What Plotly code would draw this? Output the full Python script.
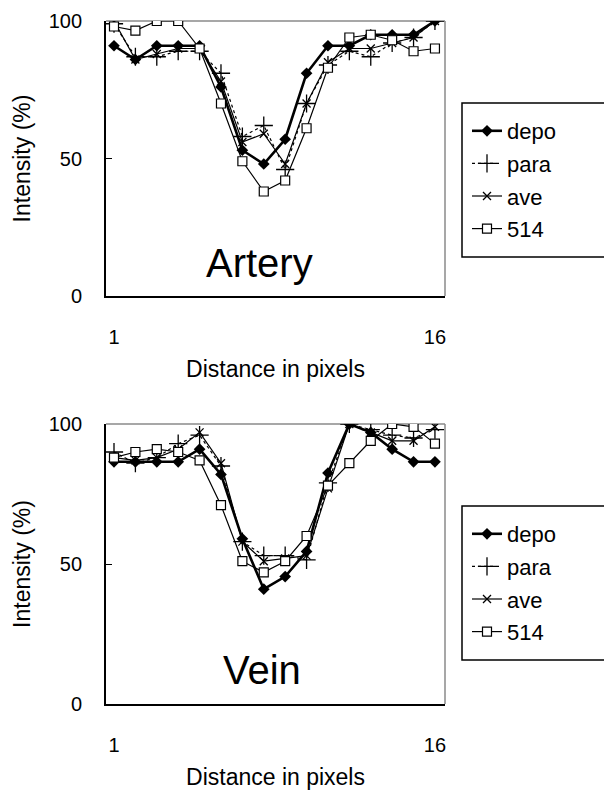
import plotly.graph_objects as go

# ---------------- data ----------------
distance = list(range(1, 17))
x_tick_vals = [1, 16]
x_tick_text = ["1", "16"]
y_tick_vals = [0, 50, 100]
series_names = ["depo", "para", "ave", "514"]

artery_depo = [91, 86, 91, 91, 91, 76, 53, 48, 57, 81, 91, 91, 95, 95, 95, 100]
artery_para = [99, 87, 87, 89, 89, 81, 58, 62, 46, 70, 84, 89, 87, 92, 94, 100]
artery_ave = [100, 86, 88, 90, 90, 78, 56, 59, 48, 70, 85, 90, 90, 92, 94, 100]
artery_514 = [98, 96.5, 100, 100, 90, 70, 49, 38, 42, 61, 83, 94, 95, 93, 89, 90]

vein_depo = [86.5, 86.5, 86.5, 86.5, 91, 82, 59, 41, 45.5, 54.5, 82.5, 100, 97, 91, 86.5, 86.5]
vein_para = [90, 86, 88, 93, 96, 85, 58, 53, 53, 51.5, 79, 100, 98, 96, 95, 98]
vein_ave = [88, 87, 88, 91, 97, 86, 58, 51, 52, 53, 77, 100, 97, 94, 94, 99]
vein_514 = [88, 90, 91, 90, 87, 71, 51, 47, 51, 60, 78, 86, 94, 100, 99, 93]

# ---------------- styles ----------------
OFF = 8  # default page body margin
W, H = 612 - OFF, 801 - OFF
FONT = "Liberation Sans, Arial, sans-serif"
styles = {
    "depo": dict(line=dict(color="black", width=2.6, dash="solid"),
                 marker=dict(symbol="diamond", size=9, color="black",
                             line=dict(color="black", width=0))),
    "para": dict(line=dict(color="black", width=1.2, dash="dot"),
                 marker=dict(symbol="cross-thin", size=13, color="black",
                             line=dict(color="black", width=1.3))),
    "ave": dict(line=dict(color="black", width=1.2, dash="solid"),
                marker=dict(symbol="x-thin", size=8, color="black",
                            line=dict(color="black", width=1.3))),
    "514": dict(line=dict(color="black", width=1.2, dash="solid"),
                marker=dict(symbol="square", size=9, color="white",
                            line=dict(color="black", width=1.2))),
}

fig = go.Figure()

panels = [
    ("x", "y", "legend", [artery_depo, artery_para, artery_ave, artery_514]),
    ("x2", "y2", "legend2", [vein_depo, vein_para, vein_ave, vein_514]),
]
for xa, ya, lg, data in panels:
    for name, vals in zip(series_names, data):
        st = styles[name]
        fig.add_trace(go.Scatter(
            x=distance, y=vals, name=name, mode="lines+markers",
            xaxis=xa, yaxis=ya, legend=lg, legendgroup=lg + name,
            line=st["line"], marker=st["marker"], showlegend=True,
        ))

# pixel geometry (in page pixels) -> paper fractions
PL, PR, PT, PB = 106, 445, 21, 704
ml, mt = PL - OFF, PT - OFF
mr, mb = W - (PR - OFF), H - (PB - OFF)
ph = PB - PT
pw = PR - PL


def py(p):
    return (PB - p) / ph


def px(p):
    return (p - PL) / pw


x_range = [0.626, 16.47]
axis_common = dict(
    showline=True, linecolor="black", linewidth=1.8, showgrid=False,
    zeroline=False, automargin=False,
    tickfont=dict(family=FONT, size=20, color="black"),
)
xaxis_common = dict(axis_common, domain=[0, 1], range=x_range,
                    tickvals=x_tick_vals, ticktext=x_tick_text, ticks="",
                    ticklabelstandoff=22,
                    title=dict(text="Distance in pixels",
                               font=dict(size=23), standoff=14))
yaxis_common = dict(axis_common, range=[0, 100], tickvals=y_tick_vals,
                    ticks="inside", ticklen=6, tickcolor="black",
                    ticklabelstandoff=18,
                    title=dict(text="Intensity (%)", font=dict(size=23),
                               standoff=12))
legend_common = dict(xanchor="left", yanchor="top",
                     bgcolor="rgba(0,0,0,0)", borderwidth=0,
                     font=dict(family=FONT, size=22, color="black"),
                     tracegroupgap=1, traceorder="grouped")

fig.update_layout(
    width=W, height=H, paper_bgcolor="white", plot_bgcolor="white",
    margin=dict(l=ml, r=mr, t=mt, b=mb, autoexpand=False),
    font=dict(family=FONT, color="black"),
    xaxis=dict(xaxis_common, anchor="y"),
    yaxis=dict(yaxis_common, domain=[py(296), py(21)], anchor="x"),
    xaxis2=dict(xaxis_common, anchor="y2"),
    yaxis2=dict(yaxis_common, domain=[0, py(424)], anchor="x2"),
    legend=dict(legend_common, x=px(467), y=py(110)),
    legend2=dict(legend_common, x=px(467), y=py(513)),
)

# gray top/right frame of each plot area
for xr, yr in [("x domain", "y domain"), ("x2 domain", "y2 domain")]:
    fig.add_shape(type="line", xref=xr, yref=yr, x0=0, x1=1, y0=1, y1=1,
                  line=dict(color="#8a8a8a", width=1.5), layer="below")
    fig.add_shape(type="line", xref=xr, yref=yr, x0=1, x1=1, y0=0, y1=1,
                  line=dict(color="#8a8a8a", width=1.5), layer="below")

# legend boxes
for top, bot in [(103, 257), (506, 660)]:
    fig.add_shape(type="rect", xref="paper", yref="paper",
                  x0=px(462), x1=px(616), y0=py(bot), y1=py(top),
                  line=dict(color="black", width=1.5))

# panel labels
fig.add_annotation(text="Artery", x=7.8, y=12, xref="x", yref="y",
                   showarrow=False, font=dict(family=FONT, size=40,
                                              color="black"))
fig.add_annotation(text="Vein", x=7.9, y=12, xref="x2", yref="y2",
                   showarrow=False, font=dict(family=FONT, size=40,
                                              color="black"))

fig.write_html("out.html")
